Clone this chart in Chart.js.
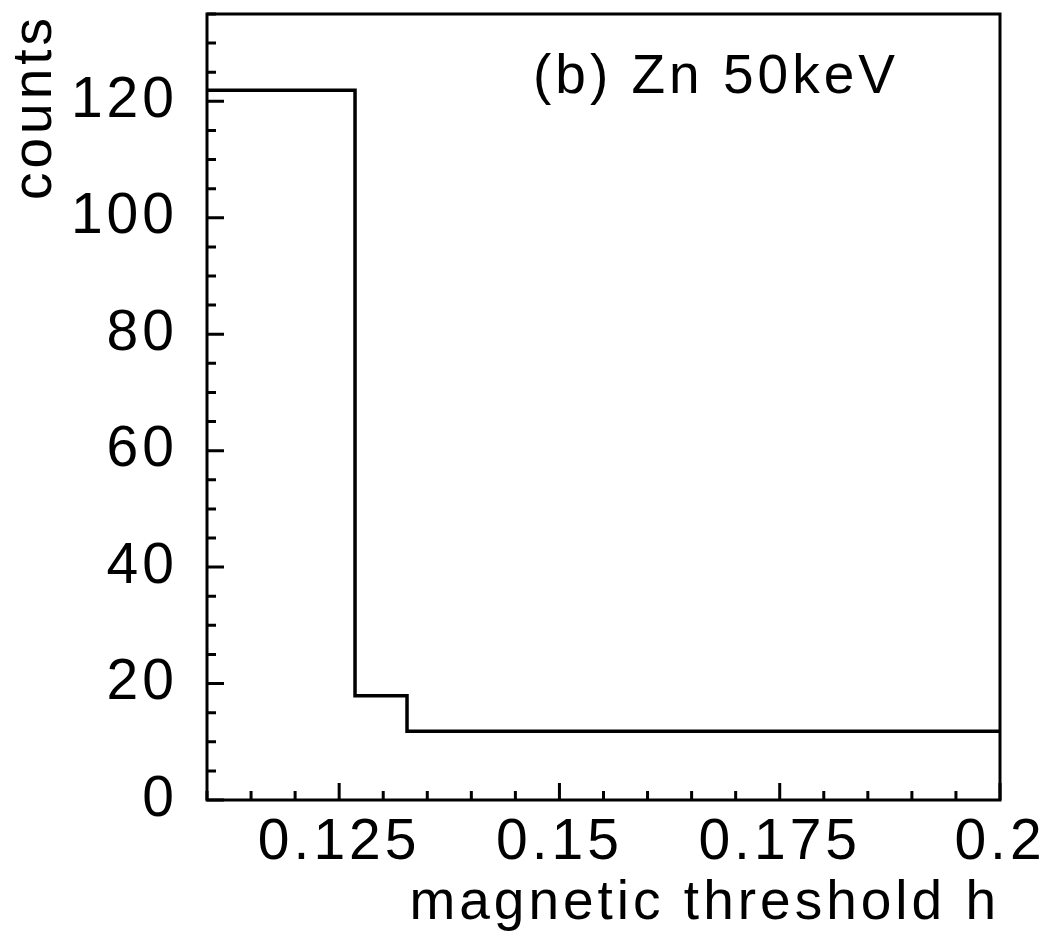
<!DOCTYPE html>
<html>
<head>
<meta charset="utf-8">
<title>counts vs magnetic threshold h</title>
<script src="https://cdn.jsdelivr.net/npm/chart.js@4.4.1/dist/chart.umd.min.js"></script>
<style>
  html, body { margin: 0; padding: 0; background: #fff; }
  canvas { display: block; }
</style>
</head>
<body>
<canvas id="hist" width="1051" height="938"></canvas>
<script>
// histogram: bin edges in h and the counts in each bin
const binEdges = [0.11, 0.1268, 0.1327, 0.2];
const binCounts = [121.9, 17.9, 11.8];

const xTickValues = [0.125, 0.15, 0.175, 0.2];
const xTickLabels = ['0.125', '0.15', '0.175', '0.2'];
const yTickValues = [0, 20, 40, 60, 80, 100, 120];
const yTickLabels = ['0', '20', '40', '60', '80', '100', '120'];

const X_MIN = 0.11, X_MAX = 0.2;
const Y_MIN = 0, Y_MAX = 135;
const X_MINOR_STEP = 0.005;
const Y_MINOR_STEP = 5;

const panelLabel = '(b) Zn 50keV';
const panelLabelAt = { x: 0.147, y: 121.5 };

const FONT = "'Liberation Sans', Arial, sans-serif";
const INK = '#000';

// one point per bin edge, last edge repeats the last count so the step reaches x max
const histPoints = binEdges.map((edge, i) => ({
    x: edge,
    y: binCounts[Math.min(i, binCounts.length - 1)]
}));

/** Frame, inward ticks and the panel label (PAW style) */
const frameAndTicks = {
    id: 'frameAndTicks',
    beforeDraw(chart) {
        // wide glyph spacing for every text drawn on the canvas
        chart.ctx.letterSpacing = '4px';
    },
    afterDraw(chart) {
        const { ctx, chartArea: area, scales: { x, y } } = chart;
        ctx.save();
        ctx.strokeStyle = INK;
        ctx.lineWidth = 3;
        ctx.lineCap = 'butt';
        ctx.strokeRect(area.left, area.top, area.right - area.left, area.bottom - area.top);

        ctx.beginPath();
        const nx = Math.round((X_MAX - X_MIN) / X_MINOR_STEP);
        for (let i = 0; i <= nx; i++) {
            const v = X_MIN + i * X_MINOR_STEP;
            const isMajor = xTickValues.some(t => Math.abs(t - v) < 1e-9);
            const px = x.getPixelForValue(v);
            ctx.moveTo(px, area.bottom);
            ctx.lineTo(px, area.bottom - (isMajor ? 17 : 9));
        }
        const ny = Math.round((Y_MAX - Y_MIN) / Y_MINOR_STEP);
        for (let i = 0; i <= ny; i++) {
            const v = Y_MIN + i * Y_MINOR_STEP;
            const isMajor = yTickValues.includes(v);
            const py = y.getPixelForValue(v);
            ctx.moveTo(area.left, py);
            ctx.lineTo(area.left + (isMajor ? 17 : 9), py);
        }
        ctx.stroke();

        ctx.fillStyle = INK;
        ctx.font = `55px ${FONT}`;
        ctx.textAlign = 'left';
        ctx.textBaseline = 'alphabetic';
        ctx.fillText(panelLabel, x.getPixelForValue(panelLabelAt.x), y.getPixelForValue(panelLabelAt.y));
        ctx.restore();
    }
};

const ctx = document.getElementById('hist').getContext('2d');
new Chart(ctx, {
    type: 'line',
    data: {
        datasets: [{
            data: histPoints,
            stepped: 'before',
            borderColor: INK,
            borderWidth: 3.5,
            pointRadius: 0,
            fill: false
        }]
    },
    options: {
        responsive: false,
        animation: false,
        layout: { padding: { left: 0, top: 14, right: 51, bottom: 0 } },
        plugins: { legend: { display: false }, tooltip: { enabled: false } },
        scales: {
            x: {
                type: 'linear',
                min: X_MIN,
                max: X_MAX,
                afterBuildTicks: axis => { axis.ticks = xTickValues.map(v => ({ value: v })); },
                afterFit: axis => {
                    axis.height = 138;
                    axis.paddingLeft = 0;
                    axis.paddingRight = 0;
                },
                grid: { display: false },
                border: { display: false },
                ticks: {
                    autoSkip: false,
                    maxRotation: 0,
                    padding: 1,
                    color: INK,
                    font: { family: FONT, size: 57 },
                    callback: value => xTickLabels[xTickValues.indexOf(value)]
                },
                title: {
                    display: true,
                    text: 'magnetic threshold h',
                    align: 'end',
                    color: INK,
                    font: { family: FONT, size: 55 },
                    padding: { top: 0, bottom: 1 }
                }
            },
            y: {
                min: Y_MIN,
                max: Y_MAX,
                afterBuildTicks: axis => { axis.ticks = yTickValues.map(v => ({ value: v })); },
                afterFit: axis => {
                    axis.width = 207;
                    axis.paddingTop = 0;
                    axis.paddingBottom = 0;
                },
                grid: { display: false },
                border: { display: false },
                ticks: {
                    autoSkip: false,
                    padding: 21,
                    color: INK,
                    font: { family: FONT, size: 57 },
                    callback: value => yTickLabels[yTickValues.indexOf(value)]
                },
                title: {
                    display: true,
                    text: 'counts',
                    align: 'end',
                    color: INK,
                    font: { family: FONT, size: 55 },
                    padding: { top: 3, bottom: 0 }
                }
            }
        }
    },
    plugins: [frameAndTicks]
});
</script>
</body>
</html>
